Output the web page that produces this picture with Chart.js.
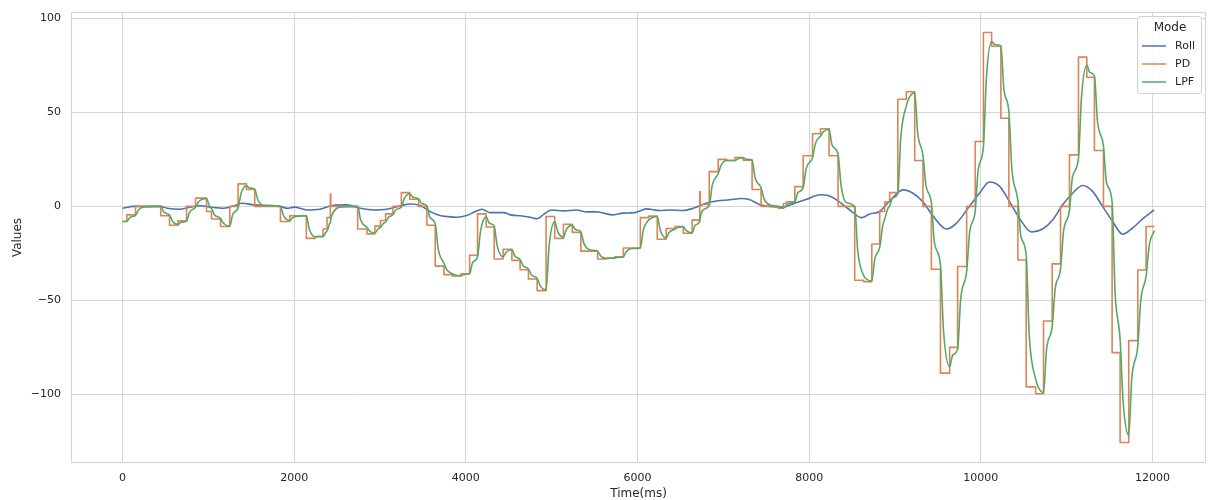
<!DOCTYPE html>
<html>
<head>
<meta charset="utf-8">
<script src="https://cdn.jsdelivr.net/npm/chart.js@4.4.1/dist/chart.umd.min.js"></script>
<style>
  html, body { margin: 0; padding: 0; background: #ffffff; }
  canvas { display: block; }
</style>
</head>
<body>
<canvas id="chart" width="1209" height="500" style="width:1209px;height:500px"></canvas>
<script>
// Series names and tick values
const seriesNames = ['Roll', 'PD', 'LPF'];
const legendTitle = 'Mode';
const xTicks = [0, 2000, 4000, 6000, 8000, 10000, 12000];
const yTicks = [-100, -50, 0, 50, 100];

// Roll angle, [time ms, value]
const rollPoints = [
  [0,-1],[130,0],[440,0],[520,-1],[675,-1.5],[790,-0.4],[910,0.3],[1025,-0.4],[1180,-1],[1300,0.3],
  [1390,1.7],[1530,0.8],[1680,0.3],[1840,-0.1],[1920,-1],[2000,-0.4],[2150,-1.9],[2300,-1.5],[2460,0.6],[2615,0.8],
  [2770,-1],[2925,-1.9],[3080,-1.5],[3240,0.3],[3350,1.3],[3470,0.5],[3585,-2.8],[3700,-4.9],[3780,-5.4],[3895,-5.8],
  [4010,-4.9],[4110,-2.7],[4190,-1.5],[4280,-3.3],[4440,-3.3],[4520,-4.5],[4630,-5],[4750,-5.8],[4830,-6.6],[4900,-4.5],
  [5000,-1.9],[5140,-2.4],[5290,-1.9],[5410,-2.9],[5525,-2.9],[5700,-4.5],[5835,-3.6],[5970,-3.3],[6105,-1.3],[6260,-2.2],
  [6380,-1.9],[6530,-2.2],[6650,-1],[6800,1.7],[6920,2.9],[7075,3.5],[7210,4.2],[7310,3.5],[7425,0.9],[7540,0],
  [7700,-0.4],[7815,1.4],[7970,3.8],[8125,6.2],[8220,5.8],[8320,3.5],[8470,-1.8],[8610,-6],[8705,-4.1],[8820,-2.7],
  [8950,3.5],[9093,8.8],[9210,7],[9326,2.4],[9442,-5],[9600,-12],[9715,-9],[9850,-1],[9985,7],[10100,13],
  [10217,10.8],[10334,2.6],[10450,-6.3],[10590,-13.6],[10720,-12],[10840,-7.1],[10954,0.9],[11070,7],[11187,11.1],[11303,8],
  [11419,0],[11536,-8],[11652,-14.8],[11769,-11.5],[11885,-6.7],[12020,-1.9]
];

// PD controller output: each value holds from its time until the next one
const pdSteps = [
  [0,-8],[50,-4.5],[150,0],[445,-5],[547,-10],[645,-7.7],[745,0],[850,4.4],[978,-2.7],[1036,-6.7],
  [1141,-10.7],[1249,0],[1346,12],[1443,9],[1540,0],[1839,-8],[1948,-5],[2141,-17],[2246,-16],[2336,-12],
  [2382,-6],[2421,6.5],[2426,0],[2739,-12],[2848,-14.6],[2940,-10.5],[3005,-7.5],[3065,-4],[3150,0],[3248,7.3],
  [3346,3.8],[3449,0],[3546,-10],[3643,-31.8],[3745,-36.3],[3842,-37],[3942,-35.8],[4043,-26],[4136,-4],[4237,-11],
  [4330,-28],[4434,-22.8],[4536,-28.7],[4632,-33.7],[4729,-38.6],[4830,-44.8],[4935,-5.4],[5035,-17],[5137,-9.5],[5240,-13.8],
  [5340,-23.8],[5535,-28],[5638,-27.5],[5735,-26.8],[5835,-22.1],[6033,-6],[6130,-5.2],[6230,-17.5],[6335,-11.8],[6436,-10.7],
  [6533,-14.3],[6636,-7.3],[6725,7.9],[6730,1],[6836,18.5],[6940,25],[7038,24.4],[7135,26],[7231,24.6],[7335,9],
  [7440,0],[7639,-1],[7700,1.5],[7736,2.5],[7833,10.5],[7930,26.9],[8039,38.6],[8132,41.3],[8232,26.9],[8337,0],
  [8531,-39.3],[8632,-40],[8730,-20],[8822,-2.7],[8880,2.3],[8938,7.3],[9033,57],[9132,61],[9230,24.4],[9326,0],
  [9424,-33.4],[9530,-88.7],[9637,-75],[9730,-32],[9835,0],[9935,34.5],[10030,92.5],[10126,85.2],[10234,46.9],[10327,0],
  [10432,-28.5],[10529,-96],[10638,-99.7],[10731,-61],[10832,-30.6],[10929,0],[11033,27.4],[11138,79.4],[11235,68.7],[11324,29.7],
  [11429,0],[11530,-77.8],[11623,-125.6],[11724,-71.4],[11829,-33.8],[11926,-10.7],[12023,-10.7]
];

// Low-pass filtered PD output, [time ms, value]
const lpfPoints = [
  [0,-8],[50,-8],[85,-5.9],[150,-4.75],[185,-1.9],[250,-0.33],[445,0],[480,-3],[547,-4.65],[582,-7.86],
  [645,-9.57],[680,-8.45],[745,-7.83],[780,-3.13],[850,-0.47],[885,2.45],[950,4.06],[978,4.23],[1013,0.07],[1036,-1.18],
  [1071,-4.49],[1141,-6.37],[1176,-8.97],[1249,-10.44],[1284,-4.18],[1346,-0.84],[1381,6.86],[1443,10.97],[1478,9.79],[1540,9.16],
  [1575,3.66],[1640,0.64],[1839,0],[1874,-4.8],[1948,-7.52],[1983,-6.01],[2048,-5.18],[2141,-5],[2176,-12.2],[2246,-16.28],
  [2281,-16.11],[2336,-16.03],[2371,-13.61],[2382,-13.21],[2412,-9.24],[2421,-8.6],[2426,-6.79],[2461,-2.72],[2526,-0.48],[2739,0],
  [2774,-7.2],[2848,-11.28],[2883,-13.27],[2940,-14.3],[2975,-12.02],[3005,-11.18],[3040,-8.97],[3065,-8.27],[3100,-5.71],[3150,-4.47],
  [3185,-1.79],[3248,-0.36],[3283,4.24],[3346,6.69],[3381,4.96],[3449,4.0],[3484,1.6],[3546,0.32],[3581,-5.87],[3643,-9.17],
  [3678,-22.75],[3745,-30.22],[3780,-33.87],[3842,-35.81],[3877,-36.52],[3942,-36.92],[3977,-36.25],[4043,-35.88],[4078,-29.95],[4136,-26.89],
  [4171,-13.16],[4237,-5.6],[4272,-8.84],[4330,-10.51],[4365,-21.0],[4434,-26.86],[4469,-24.42],[4536,-23.08],[4571,-26.45],[4632,-28.25],
  [4667,-31.52],[4729,-33.26],[4764,-36.46],[4830,-38.23],[4865,-42.17],[4935,-44.41],[4970,-21.0],[5035,-8.13],[5070,-13.45],[5137,-16.38],
  [5172,-12.25],[5240,-9.98],[5275,-12.27],[5340,-13.53],[5375,-19.69],[5440,-23.08],[5535,-23.8],[5570,-26.32],[5638,-27.71],[5673,-27.58],
  [5735,-27.52],[5770,-27.09],[5835,-26.85],[5870,-24.0],[5935,-22.43],[6033,-22.1],[6068,-12.44],[6130,-7.29],[6165,-6.04],[6230,-5.35],
  [6265,-12.64],[6335,-16.77],[6370,-13.79],[6436,-12.15],[6471,-11.28],[6533,-10.82],[6568,-12.91],[6636,-14.06],[6671,-10.0],[6725,-7.98],
  [6730,-6.07],[6765,-1.83],[6836,0.58],[6871,11.33],[6940,17.34],[6975,21.94],[7038,24.39],[7073,24.4],[7135,24.4],[7170,25.36],
  [7231,25.87],[7266,25.11],[7335,24.68],[7370,15.27],[7440,9.94],[7475,3.98],[7540,0.7],[7639,0],[7674,-0.6],[7700,-0.8],
  [7736,0.6],[7771,1.74],[7833,2.35],[7868,7.24],[7930,9.85],[7965,20.08],[8039,25.88],[8074,33.51],[8132,37.46],[8167,39.76],
  [8232,41.03],[8267,32.55],[8337,27.75],[8372,11.1],[8437,1.94],[8531,0],[8566,-23.58],[8632,-36.55],[8667,-38.62],[8730,-39.72],
  [8765,-27.89],[8822,-21.77],[8857,-10.33],[8880,-6.9],[8915,-1.38],[8938,0.28],[8973,4.49],[9033,6.74],[9068,36.9],[9132,53.48],
  [9167,58.0],[9230,60.4],[9265,38.8],[9326,27.28],[9361,10.91],[9424,2.18],[9459,-19.17],[9530,-31.27],[9565,-65.73],[9637,-85.25],
  [9672,-79.1],[9730,-75.92],[9765,-49.57],[9835,-34.63],[9870,-13.85],[9935,-2.42],[9970,19.73],[10030,31.55],[10065,68.12],[10126,87.62],
  [10161,86.17],[10234,85.35],[10269,62.28],[10327,50.36],[10362,20.14],[10432,3.02],[10467,-15.89],[10529,-25.98],[10564,-67.99],[10638,-91.8],
  [10673,-96.54],[10731,-98.99],[10766,-76.2],[10832,-63.66],[10867,-43.82],[10929,-33.24],[10964,-13.3],[11033,-2.16],[11068,15.58],[11138,25.63],
  [11173,57.89],[11235,75.1],[11270,71.26],[11324,69.34],[11359,45.56],[11429,32.08],[11464,12.83],[11530,2.25],[11565,-45.78],[11623,-70.6],
  [11658,-103.6],[11724,-121.75],[11759,-91.54],[11829,-74.42],[11864,-50.05],[11926,-37.05],[11961,-21.24],[12023,-12.81]
];

// Styling
const COLORS = { Roll: '#4c72b0', PD: '#dd8452', LPF: '#55a868' };
const GRID = '#d5d5d5';
const TEXT = '#262626';
const FONT = "'DejaVu Sans', 'Liberation Sans', sans-serif";

const toXY = pts => pts.map(([x, y]) => ({ x, y }));

// Frame around the plotting area
const framePlugin = {
  id: 'frame',
  beforeDatasetsDraw(chart) {
    const { ctx, chartArea: a } = chart;
    ctx.save();
    ctx.strokeStyle = GRID;
    ctx.lineWidth = 1.2;
    ctx.strokeRect(Math.round(a.left) + 0.5, Math.round(a.top) + 0.5,
                   Math.round(a.right - a.left) - 1, Math.round(a.bottom - a.top) - 1);
    ctx.restore();
  }
};

// Boxed legend with a title in the upper-right corner of the plot
const legendPlugin = {
  id: 'boxLegend',
  afterDraw(chart) {
    const { ctx, chartArea: a } = chart;
    const w = 64, h = 77;
    const x0 = a.right - 5 - w, y0 = a.top + 4;
    ctx.save();
    ctx.beginPath();
    ctx.roundRect(x0 + 0.5, y0 + 0.5, w, h, 3);
    ctx.fillStyle = 'rgba(255,255,255,0.85)';
    ctx.fill();
    ctx.strokeStyle = '#d0d0d0';
    ctx.lineWidth = 1;
    ctx.stroke();

    ctx.fillStyle = TEXT;
    ctx.font = '12px ' + FONT;
    ctx.textAlign = 'center';
    ctx.textBaseline = 'middle';
    ctx.fillText(legendTitle, x0 + w / 2 + 1, y0 + 12);

    ctx.font = '11px ' + FONT;
    ctx.textAlign = 'left';
    seriesNames.forEach((name, i) => {
      const y = y0 + 30 + i * 18;
      ctx.strokeStyle = COLORS[name];
      ctx.lineWidth = 1.5;
      ctx.beginPath();
      ctx.moveTo(x0 + 5, y);
      ctx.lineTo(x0 + 29, y);
      ctx.stroke();
      ctx.fillStyle = TEXT;
      ctx.fillText(name, x0 + 38, y + 0.5);
    });
    ctx.restore();
  }
};

const fmt = v => (v < 0 ? '\u2212' + Math.abs(v) : String(v));

new Chart(document.getElementById('chart'), {
  type: 'line',
  data: {
    datasets: [
      { label: 'Roll', data: toXY(rollPoints), borderColor: COLORS.Roll, borderWidth: 1.6,
        cubicInterpolationMode: 'monotone', order: 3 },
      { label: 'PD', data: toXY(pdSteps), borderColor: COLORS.PD, borderWidth: 1.6,
        stepped: 'before', order: 2 },
      { label: 'LPF', data: toXY(lpfPoints), borderColor: COLORS.LPF, borderWidth: 1.6,
        cubicInterpolationMode: 'monotone', order: 1 }
    ]
  },
  options: {
    responsive: false,
    animation: false,
    devicePixelRatio: 1,
    events: [],
    layout: { padding: { top: 12, right: 3, left: 0, bottom: 0 } },
    elements: { point: { radius: 0 }, line: { borderJoinStyle: 'round', borderCapStyle: 'butt' } },
    plugins: { legend: { display: false }, tooltip: { enabled: false } },
    scales: {
      x: {
        type: 'linear',
        min: -601,
        max: 12624,
        afterBuildTicks: s => { s.ticks = xTicks.map(v => ({ value: v })); },
        afterFit: s => { s.height = 37; s.paddingLeft = 0; s.paddingRight = 0; },
        ticks: { callback: v => String(v), color: TEXT, padding: 9, maxRotation: 0,
                 font: { family: FONT, size: 11 } },
        grid: { color: GRID, lineWidth: 1, drawTicks: false },
        border: { display: false },
        title: { display: true, text: 'Time(ms)', color: TEXT, padding: { top: 0, bottom: -1 },
                 font: { family: FONT, size: 12 } }
      },
      y: {
        type: 'linear',
        min: -136.5,
        max: 103.4,
        afterBuildTicks: s => { s.ticks = yTicks.map(v => ({ value: v })); },
        afterFit: s => { s.width = 71; s.paddingTop = 0; s.paddingBottom = 0; },
        ticks: { callback: v => fmt(v), color: TEXT, padding: 10,
                 font: { family: FONT, size: 11 } },
        grid: { color: GRID, lineWidth: 1, drawTicks: false },
        border: { display: false },
        title: { display: true, text: 'Values', color: TEXT, padding: { top: 11, bottom: 0 },
                 font: { family: FONT, size: 12 } }
      }
    }
  },
  plugins: [framePlugin, legendPlugin]
});
</script>
</body>
</html>
